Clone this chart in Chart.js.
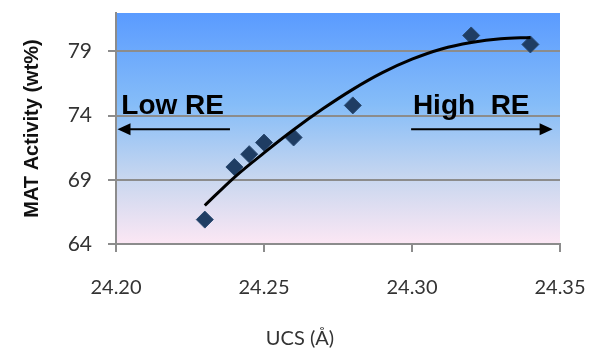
<!DOCTYPE html>
<html>
<head>
<meta charset="utf-8">
<script src="https://cdn.jsdelivr.net/npm/chart.js@4"></script>
<style>
    html, body { margin: 0; padding: 0; background: #ffffff; }
    #wrap { width: 591px; height: 350px; }
</style>
</head>
<body>
<div id="wrap"><canvas id="myScatterChart" width="591" height="350"></canvas></div>
<script>
// measured points
const ucsValues = [24.23, 24.24, 24.245, 24.25, 24.26, 24.28, 24.32, 24.34];
const matActivity = [65.9, 70.0, 71.0, 71.9, 72.3, 74.8, 80.25, 79.55];

// trend line
const trendUcs = [24.23, 24.24, 24.25, 24.26, 24.27, 24.28, 24.29, 24.30, 24.31, 24.32, 24.33, 24.34];
const trendMat = [67.0, 69.2, 71.1, 72.9, 74.55, 76.05, 77.35, 78.4, 79.2, 79.7, 80.0, 80.1];

const xTicks = [24.20, 24.25, 24.30, 24.35];
const yTicks = [64, 69, 74, 79];

const xTitle = 'UCS (Å)';
const yTitle = 'MAT Activity (wt%)';

const gridGrey = '#8c8c8c';

const backgroundPlugin = {
    id: 'plotBackground',
    beforeDraw(chart) {
        const {ctx, chartArea} = chart;
        const grad = ctx.createLinearGradient(0, chartArea.top, 0, chartArea.bottom);
        grad.addColorStop(0, '#5a9bff');
        grad.addColorStop(0.4, '#86bdf8');
        grad.addColorStop(0.72, '#c9d7ef');
        grad.addColorStop(1, '#fce7f4');
        ctx.save();
        ctx.fillStyle = grad;
        ctx.fillRect(chartArea.left, chartArea.top, chartArea.right - chartArea.left, chartArea.bottom - chartArea.top);
        ctx.restore();
    }
};

function drawArrow(ctx, x1, x2, y) {
    const dir = x2 > x1 ? 1 : -1;
    ctx.beginPath();
    ctx.moveTo(x1, y);
    ctx.lineTo(x2 - dir * 10, y);
    ctx.stroke();
    ctx.beginPath();
    ctx.moveTo(x2, y);
    ctx.lineTo(x2 - dir * 13, y - 6);
    ctx.lineTo(x2 - dir * 13, y + 6);
    ctx.closePath();
    ctx.fill();
}

const notesPlugin = {
    id: 'reNotes',
    afterDraw(chart) {
        const {ctx} = chart;
        const xs = chart.scales.x;
        const ys = chart.scales.y;
        ctx.save();
        ctx.fillStyle = '#000000';
        ctx.strokeStyle = '#000000';
        ctx.lineWidth = 2;
        ctx.font = 'bold 28px "Liberation Sans", Arial, sans-serif';
        ctx.textBaseline = 'alphabetic';
        ctx.textAlign = 'left';
        ctx.fillText('Low RE', xs.getPixelForValue(24.2018), ys.getPixelForValue(74.15));
        ctx.fillText('High  RE', xs.getPixelForValue(24.3003), ys.getPixelForValue(74.15));

        const arrowY = ys.getPixelForValue(72.95);
        drawArrow(ctx, xs.getPixelForValue(24.2385), xs.getPixelForValue(24.2005), arrowY);
        drawArrow(ctx, xs.getPixelForValue(24.2997), xs.getPixelForValue(24.3475), arrowY);

        // x axis title
        ctx.font = '20px Lato, "Open Sans", sans-serif';
        ctx.fillStyle = '#333333';
        ctx.textAlign = 'center';
        ctx.textBaseline = 'middle';
        ctx.fillText(xTitle, 300, 339);
        ctx.restore();
    }
};

let myScatterChart;

function drawScatterChart() {
    let ctx = document.getElementById('myScatterChart').getContext('2d');

    myScatterChart = new Chart(ctx, {
        type: 'scatter',
        data: {
            datasets: [{
                label: 'MAT Activity',
                data: ucsValues.map((u, i) => ({x: u, y: matActivity[i]})),
                pointStyle: 'rectRot',
                pointRadius: 8.5,
                pointHoverRadius: 8.5,
                backgroundColor: '#1f3d63',
                borderColor: '#2a4a72',
                borderWidth: 1,
                order: 2
            }, {
                label: 'Trend',
                data: trendUcs.map((u, i) => ({x: u, y: trendMat[i]})),
                showLine: true,
                pointRadius: 0,
                borderColor: '#000000',
                borderWidth: 3,
                cubicInterpolationMode: 'monotone',
                fill: false,
                order: 1
            }]
        },
        options: {
            responsive: false,
            animation: false,
            layout: {
                padding: {top: 13, right: 31, left: 0, bottom: 0}
            },
            plugins: {
                legend: {display: false},
                tooltip: {enabled: false}
            },
            scales: {
                x: {
                    type: 'linear',
                    min: 24.20,
                    max: 24.35,
                    afterBuildTicks: scale => {
                        scale.ticks = xTicks.map(v => ({value: v}));
                    },
                    afterFit: scale => {
                        scale.height = 106;
                        scale.paddingLeft = 0;
                        scale.paddingRight = 0;
                    },
                    ticks: {
                        color: '#333333',
                        padding: 24,
                        font: {family: 'Lato, "Open Sans", sans-serif', size: 20},
                        callback: v => v.toFixed(2)
                    },
                    grid: {
                        drawOnChartArea: false,
                        drawTicks: true,
                        tickLength: 8,
                        tickColor: gridGrey,
                        lineWidth: 2
                    },
                    border: {color: gridGrey, width: 2},
                    title: {display: false}
                },
                y: {
                    type: 'linear',
                    min: 64,
                    max: 82,
                    afterBuildTicks: scale => {
                        scale.ticks = yTicks.map(v => ({value: v}));
                    },
                    afterFit: scale => {
                        scale.width = 116;
                        scale.paddingTop = 0;
                        scale.paddingBottom = 0;
                    },
                    ticks: {
                        color: '#333333',
                        padding: 16,
                        font: {family: 'Lato, "Open Sans", sans-serif', size: 21}
                    },
                    grid: {
                        color: gridGrey,
                        lineWidth: 2,
                        tickLength: 8,
                        tickColor: gridGrey
                    },
                    border: {color: gridGrey, width: 2},
                    title: {
                        display: true,
                        text: yTitle,
                        color: '#111111',
                        padding: {top: 20, bottom: 0},
                        font: {family: '"Liberation Sans", Arial, sans-serif', size: 20, weight: 'bold'}
                    }
                }
            }
        },
        plugins: [backgroundPlugin, notesPlugin]
    });
}

drawScatterChart();
</script>
</body>
</html>
